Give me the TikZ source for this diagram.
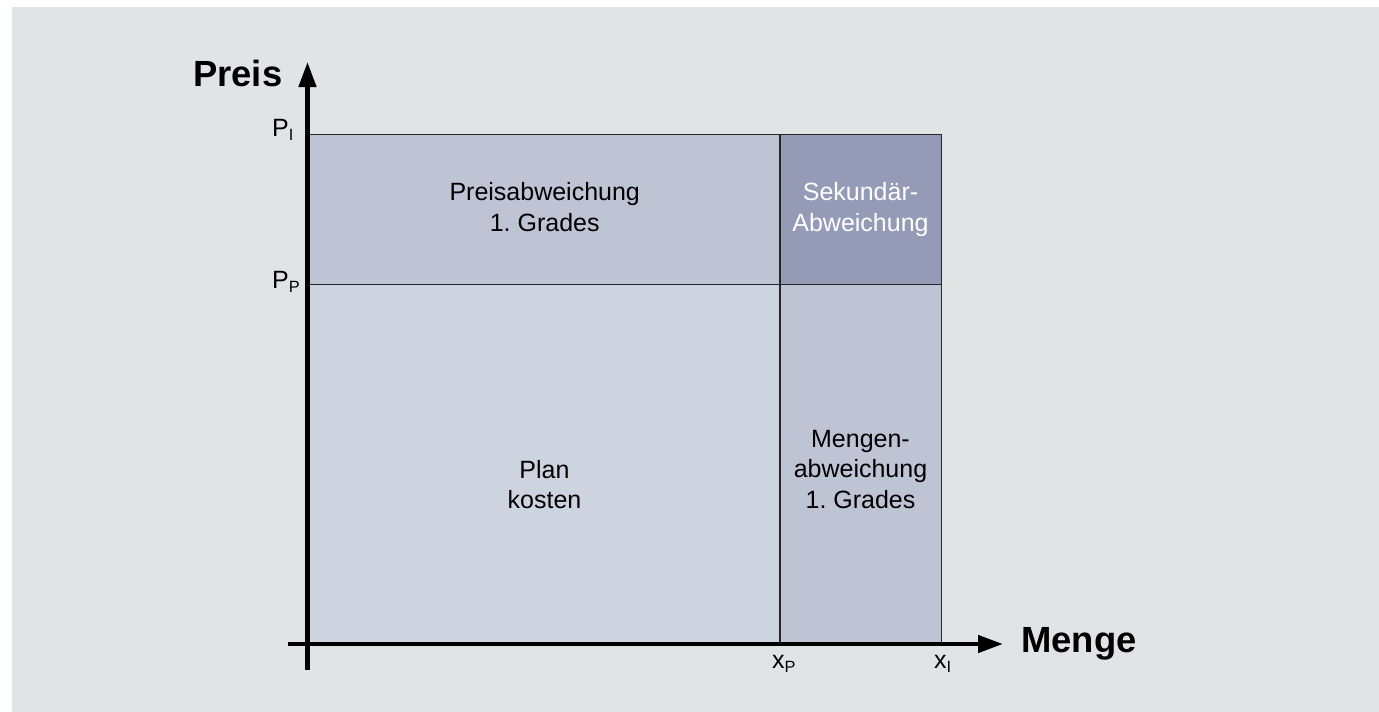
\documentclass[tikz,border=0pt]{standalone}
\usepackage{fontspec}
\setmainfont{Liberation Sans}
\usepackage{xcolor}
\usetikzlibrary{arrows.meta, positioning}

\definecolor{bgfill}{HTML}{E1E4E5}
\definecolor{planfill}{HTML}{CED4DF}
\definecolor{devfill}{HTML}{BEC4D4}
\definecolor{secfill}{HTML}{959BB6}

% tiefgestellter Index
\newcommand{\tief}[1]{\raisebox{-4pt}{\fontsize{16.3}{18}\selectfont #1}}

\begin{document}
\frenchspacing
\begin{tikzpicture}[x=1pt, y=-1pt,
  region/.style={draw=black!85, line width=1.3pt},
  axis/.style={line width=4.5pt, -{Triangle[length=25pt, width=17pt]}},
  body/.style={font=\fontsize{25}{30.6}\selectfont, align=center, inner sep=0pt},
  axislabel/.style={font=\bfseries\fontsize{36.4}{40}\selectfont, inner sep=0pt},
  ticklabel/.style={font=\fontsize{25}{28}\selectfont, inner sep=0pt}
]
\useasboundingbox (0,0) rectangle (1379,712);
\fill [bgfill] (12,7) rectangle (1379,712);

% Eckpunkte
\coordinate (O) at (307.5,644);
\coordinate (xP) at (780,644);
\coordinate (xI) at (941.5,644);
\coordinate (yP) at (307.5,284.3);
\coordinate (yI) at (307.5,134.3);
\coordinate (ytop) at (307.5,62);
\coordinate (ybot) at (307.5,670);
\coordinate (xleft) at (288,644);
\coordinate (xend) at (1003,644);

% Flaechen
\draw [region, fill=planfill] (O) rectangle (xP |- yP);
\draw [region, fill=devfill] (yP) rectangle (xP |- yI);
\draw [region, fill=devfill] (xP) rectangle (xI |- yP);
\draw [region, fill=secfill] (xP |- yP) rectangle (xI |- yI);

% Achsen
\draw [axis] (ybot) -- (ytop);
\draw [axis] (xleft) -- (xend);

% Texte
\node (preisab) [body] at (544.7,206.9) {Preisabweichung\\1. Grades};
\node (sekab) [body, text=white] at (860.5,209.4) {Sekund\"ar-\\Abweichung};
\node (plan) [body] at (544.5,484.4) {Plan\\kosten};
\node (mengab) [body] at (860.5,469.3) {Mengen-\\abweichung\\1. Grades};

% Achsenbeschriftung
\node (preis) [axislabel, anchor=base east] at (282.5,86) {Preis};
\node (menge) [axislabel, anchor=base west] at (1021,652) {Menge};
\node (lpI) [ticklabel, anchor=base west] at (272,136) {P\tief{I}};
\node (lpP) [ticklabel, anchor=base west] at (272,288) {P\tief{P}};
\node (lxP) [ticklabel, anchor=base west] at (772,668) {x\tief{P}};
\node (lxI) [ticklabel, anchor=base west] at (934,668) {x\tief{I}};

\end{tikzpicture}
\end{document}
